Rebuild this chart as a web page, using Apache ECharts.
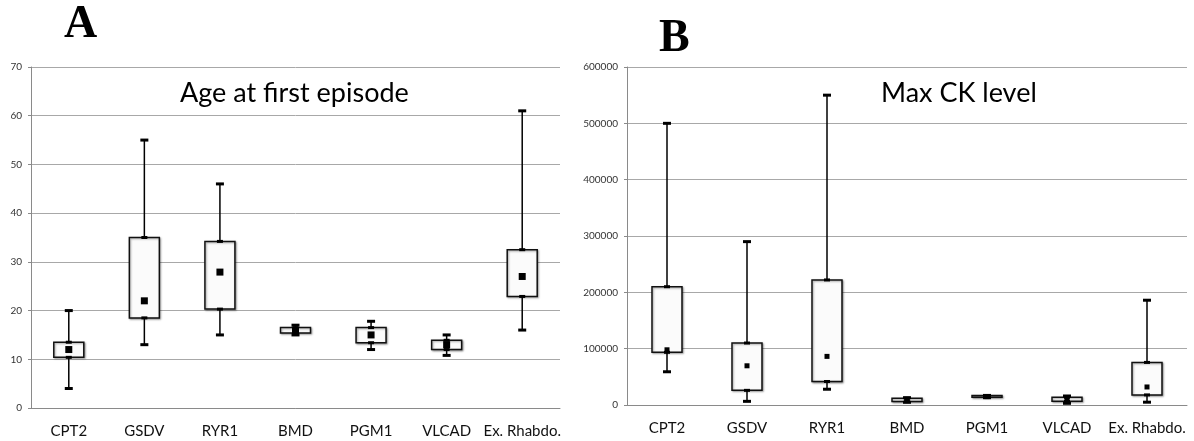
<!DOCTYPE html>
<html>
<head>
<meta charset="utf-8">
<script src="https://cdn.jsdelivr.net/npm/echarts@6/dist/echarts.min.js"></script>
<style>
  html, body { margin: 0; padding: 0; background: #fff; }
  #container { width: 1194px; height: 441px; }
</style>
</head>
<body>
<div id="container"></div>
<script>
// 分类
var categories = ['CPT2', 'GSDV', 'RYR1', 'BMD', 'PGM1', 'VLCAD', 'Ex. Rhabdo.'];

// A: Age at first episode
var ageMin  = [4, 13, 15, 15, 12, 10.8, 16];
var ageQ1   = [10.4, 18.5, 20.3, 15.4, 13.4, 12, 22.9];
var ageQ3   = [13.5, 35, 34.2, 16.5, 16.5, 13.9, 32.5];
var ageMax  = [20, 55, 46, 17, 17.8, 15, 61];
var ageMean = [12, 22, 27.9, 15.9, 15, 13, 27];

// B: Max CK level
var ckMin  = [59000, 6500, 28000, 4800, 13000, 3000, 5000];
var ckQ1   = [93500, 26000, 41700, 6000, 13700, 6500, 17900];
var ckQ3   = [210000, 110000, 222000, 11900, 16700, 13700, 75600];
var ckMax  = [500000, 290000, 550000, 13000, 17000, 16000, 186000];
var ckMean = [98000, 69600, 86300, 10000, 14900, 10000, 32000];

var font = 'Lato, "Open Sans", sans-serif';

function boxData(mn, q1, q3, mx) {
    return categories.map(function (c, i) { return [i, mn[i], q1[i], q3[i], mx[i]]; });
}
function meanData(m) {
    return categories.map(function (c, i) { return [i, m[i]]; });
}

// 箱体 + 须线
function renderBox(params, api) {
    var x = api.value(0);
    var pMin = api.coord([x, api.value(1)]);
    var pQ1 = api.coord([x, api.value(2)]);
    var pQ3 = api.coord([x, api.value(3)]);
    var pMax = api.coord([x, api.value(4)]);
    var w = 30, cap = 8;
    var cx = pMin[0];
    var line = {stroke: '#000', lineWidth: 1.5};
    var capStyle = {stroke: '#000', lineWidth: 3};
    function capAt(y) {
        return {type: 'line', shape: {x1: cx - cap / 2, y1: y, x2: cx + cap / 2, y2: y}, style: capStyle};
    }
    return {
        type: 'group',
        children: [
            {type: 'line', shape: {x1: cx, y1: pMax[1], x2: cx, y2: pQ3[1]}, style: line},
            {type: 'line', shape: {x1: cx, y1: pQ1[1], x2: cx, y2: pMin[1]}, style: line},
            {type: 'rect', shape: {x: cx - w / 2, y: pQ3[1], width: w, height: pQ1[1] - pQ3[1]},
                style: {fill: '#fbfbfb', stroke: '#111', lineWidth: 1.5,
                    shadowBlur: 2, shadowOffsetX: 1, shadowOffsetY: 1, shadowColor: 'rgba(0,0,0,0.35)'}},
            capAt(pMax[1]),
            capAt(pMin[1]),
            {type: 'line', shape: {x1: cx - 3, y1: pQ3[1], x2: cx + 3, y2: pQ3[1]}, style: capStyle},
            {type: 'line', shape: {x1: cx - 3, y1: pQ1[1], x2: cx + 3, y2: pQ1[1]}, style: capStyle}
        ]
    };
}

function xAxisFor(gi) {
    return {
        type: 'category', gridIndex: gi, data: categories,
        axisLine: {lineStyle: {color: '#8a8a8a', width: 1}},
        axisTick: {length: 4, lineStyle: {color: '#8a8a8a'}},
        axisLabel: {interval: 0, color: '#111', fontSize: 15, fontFamily: font, margin: 16}
    };
}
function yAxisFor(gi, max, interval) {
    return {
        type: 'value', gridIndex: gi, min: 0, max: max, interval: interval,
        axisLine: {show: true, lineStyle: {color: '#8a8a8a', width: 1}},
        axisTick: {show: true, length: 3, lineStyle: {color: '#8a8a8a'}},
        splitLine: {lineStyle: {color: '#a8a8a8', width: 1}},
        axisLabel: {color: '#333', fontSize: 10, fontFamily: font, margin: 9,
            formatter: function (v) { return String(v); }}
    };
}

var myChart = echarts.init(document.getElementById('container'));
var option = {
    animation: false,
    title: [
        {text: 'A', left: 64, top: 2, padding: 0,
            textStyle: {fontFamily: '"Liberation Serif", serif', fontWeight: 'bold', fontSize: 46, color: '#000'}},
        {text: 'B', left: 659, top: 16, padding: 0,
            textStyle: {fontFamily: '"Liberation Serif", serif', fontWeight: 'bold', fontSize: 46, color: '#000'}},
        {text: 'Age at first episode', left: 180, top: 80, padding: 0,
            textStyle: {fontFamily: font, fontWeight: 'normal', fontSize: 27, color: '#000'}},
        {text: 'Max CK level', left: 881, top: 80, padding: 0,
            textStyle: {fontFamily: font, fontWeight: 'normal', fontSize: 27, color: '#000'}}
    ],
    grid: [
        {left: 31, top: 67, width: 529, height: 341},
        {left: 627, top: 67, width: 560, height: 338}
    ],
    xAxis: [xAxisFor(0), xAxisFor(1)],
    yAxis: [yAxisFor(0, 70, 10), yAxisFor(1, 600000, 100000)],
    series: [
        {type: 'custom', xAxisIndex: 0, yAxisIndex: 0, renderItem: renderBox,
            data: boxData(ageMin, ageQ1, ageQ3, ageMax), encode: {x: 0, y: [1, 2, 3, 4]}},
        {type: 'scatter', xAxisIndex: 0, yAxisIndex: 0, symbol: 'rect', symbolSize: 7,
            itemStyle: {color: '#000', opacity: 1}, data: meanData(ageMean), z: 5},
        {type: 'custom', xAxisIndex: 1, yAxisIndex: 1, renderItem: renderBox,
            data: boxData(ckMin, ckQ1, ckQ3, ckMax), encode: {x: 0, y: [1, 2, 3, 4]}},
        {type: 'scatter', xAxisIndex: 1, yAxisIndex: 1, symbol: 'rect', symbolSize: 5,
            itemStyle: {color: '#000', opacity: 1}, data: meanData(ckMean), z: 5}
    ]
};
myChart.setOption(option);
</script>
</body>
</html>
